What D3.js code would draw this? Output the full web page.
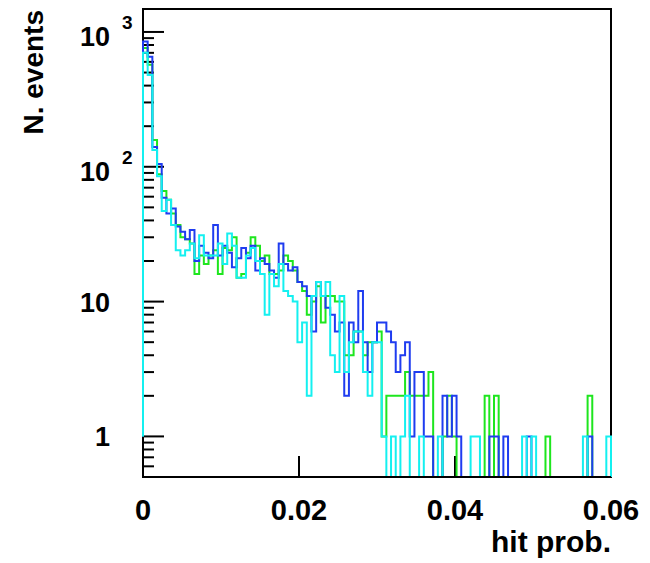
<!DOCTYPE html>
<html>
<head>
<meta charset="utf-8">
<script src="https://cdn.jsdelivr.net/npm/d3@7"></script>
<style>
    body { margin: 0; background: #fff; }
    text { font-family: "Liberation Sans", Arial, Helvetica, sans-serif; font-weight: bold; fill: #000; }
</style>
</head>
<body>
<div id="chart"></div>
<script>
// Histogram range: 100 bins between 0 and 0.06
const xRange = [0, 0.06];
const binCount = 100;

// Counts per bin
const greenCounts = [
    760, 570, 158, 88, 66, 57, 45, 37, 30, 29,
    27, 16, 22, 19, 22, 24, 16, 25, 24, 30,
    15, 16, 23, 30, 26, 20, 22, 16, 16, 17,
    22, 20, 17, 14, 12, 8, 10, 13, 7, 11,
    11, 10, 10, 4, 4, 6, 6, 4, 5, 5,
    6, 1, 2, 2, 2, 2, 3, 2, 2, 2,
    2, 3, 0, 0, 1, 2, 1, 0, 0, 0,
    0, 0, 0, 2, 0, 2, 0, 0, 0, 0,
    0, 0, 0, 0, 0, 0, 1, 0, 0, 0,
    0, 0, 0, 0, 0, 2, 0, 0, 0, 0
];
const blueCounts = [
    850, 655, 140, 105, 59, 45, 49, 36, 33, 29,
    34, 20, 26, 23, 21, 37, 22, 26, 23, 18,
    21, 25, 21, 26, 17, 21, 19, 17, 15, 27,
    19, 17, 18, 14, 13, 11, 6, 14, 11, 9,
    8, 6, 7, 2, 7, 5, 12, 5, 3, 5,
    7, 7, 6, 5, 3, 4, 5, 1, 3, 3,
    1, 1, 0, 0, 2, 1, 2, 1, 0, 0,
    0, 0, 0, 0, 1, 1, 0, 1, 0, 0,
    0, 0, 1, 0, 0, 0, 0, 0, 0, 0,
    0, 0, 0, 0, 0, 1, 0, 0, 0, 0
];
const cyanCounts = [
    700, 480, 133, 85, 47, 57, 37, 24, 22, 24,
    27, 21, 31, 22, 22, 22, 27, 19, 32, 26,
    15, 15, 22, 25, 20, 16, 8, 16, 13, 19,
    12, 11, 10, 5, 7, 2, 11, 14, 11, 14,
    4, 3, 11, 3, 5, 6, 6, 3, 2, 5,
    5, 1, 0, 1, 0, 1, 2, 0, 0, 1,
    0, 0, 0, 1, 0, 0, 0, 0, 0, 0,
    1, 1, 0, 0, 0, 0, 0, 0, 0, 0,
    0, 1, 0, 1, 0, 0, 0, 0, 0, 0,
    0, 0, 0, 0, 1, 0, 0, 0, 0, 1
];

// Axis ticks
const xTicks = [0, 0.02, 0.04, 0.06];
const xTickLabels = ["0", "0.02", "0.04", "0.06"];
const yTicks = [1, 10, 100, 1000];
const yDomain = [0.5, 1480];

// Drawing order: last one ends up on top
const series = [
    { name: "green", counts: greenCounts, color: "#1ee61e" },
    { name: "blue", counts: blueCounts, color: "#1f3cf0" },
    { name: "cyan", counts: cyanCounts, color: "#14f0f0" }
];

const margin = { top: 9, right: 39, bottom: 86, left: 143 };
const width = 650 - margin.left - margin.right;
const height = 563 - margin.top - margin.bottom;

const svg = d3.select("#chart").append("svg")
    .attr("width", 650)
    .attr("height", 563)
    .append("g")
    .attr("transform", `translate(${margin.left},${margin.top})`);

const x = d3.scaleLinear().domain(xRange).range([0, width]);
const y = d3.scaleLog().domain(yDomain).range([height, 0]);

const binWidth = (xRange[1] - xRange[0]) / binCount;
const edges = d3.range(binCount + 1).map(i => xRange[0] + i * binWidth);

// Frame
svg.append("rect")
    .attr("width", width)
    .attr("height", height)
    .attr("fill", "none")
    .attr("stroke", "#000")
    .attr("stroke-width", 2);

// Y ticks (log): majors at decades, minors at 2..9
const minorTicks = [];
for (let p = -1; p <= 3; p++) {
    for (let m = 2; m <= 9; m++) {
        const v = m * Math.pow(10, p);
        if (v > yDomain[0] && v < yDomain[1]) minorTicks.push(v);
    }
}

svg.selectAll(".y-minor")
    .data(minorTicks)
    .join("line")
    .attr("class", "y-minor")
    .attr("x1", 0)
    .attr("x2", 11)
    .attr("y1", d => y(d))
    .attr("y2", d => y(d))
    .attr("stroke", "#000")
    .attr("stroke-width", 2);

svg.selectAll(".y-major")
    .data(yTicks)
    .join("line")
    .attr("class", "y-major")
    .attr("x1", 0)
    .attr("x2", 21)
    .attr("y1", d => y(d))
    .attr("y2", d => y(d))
    .attr("stroke", "#000")
    .attr("stroke-width", 2);

// X ticks
svg.selectAll(".x-major")
    .data(xTicks)
    .join("line")
    .attr("class", "x-major")
    .attr("x1", d => x(d))
    .attr("x2", d => x(d))
    .attr("y1", height)
    .attr("y2", height - 21)
    .attr("stroke", "#000")
    .attr("stroke-width", 2);

// Histograms as step outlines
series.forEach(s => {
    const pts = [[x(edges[0]), y(1)]];
    s.counts.forEach((c, i) => {
        const yy = c > 0 ? y(c) : height;
        pts.push([x(edges[i]), yy]);
        pts.push([x(edges[i + 1]), yy]);
    });
    pts.push([x(edges[binCount]), height]);

    svg.append("path")
        .datum(pts)
        .attr("class", `hist ${s.name}`)
        .attr("fill", "none")
        .attr("stroke", s.color)
        .attr("stroke-width", 2)
        .attr("stroke-linejoin", "miter")
        .attr("d", d3.line());
});

// Bottom axis line redrawn on top
svg.append("line")
    .attr("x1", 0)
    .attr("x2", width)
    .attr("y1", height)
    .attr("y2", height)
    .attr("stroke", "#000")
    .attr("stroke-width", 2);

// X tick labels
svg.selectAll(".x-label")
    .data(xTicks)
    .join("text")
    .attr("class", "x-label")
    .attr("x", d => x(d))
    .attr("y", height + 43)
    .attr("text-anchor", "middle")
    .style("font-size", "29px")
    .text((d, i) => xTickLabels[i]);

// Y tick labels, powers above 10 get a superscript
yTicks.forEach(t => {
    const exp = Math.round(Math.log10(t));
    if (exp >= 2) {
        svg.append("text")
            .attr("x", -33)
            .attr("y", y(t) + 14)
            .attr("text-anchor", "end")
            .style("font-size", "27px")
            .text("10");
        svg.append("text")
            .attr("x", -21)
            .attr("y", y(t) - 3)
            .attr("text-anchor", "start")
            .style("font-size", "19px")
            .text(exp);
    } else {
        svg.append("text")
            .attr("x", -33)
            .attr("y", y(t) + 10)
            .attr("text-anchor", "end")
            .style("font-size", "27px")
            .text(t);
    }
});

// Axis titles
svg.append("text")
    .attr("x", width)
    .attr("y", height + 75)
    .attr("text-anchor", "end")
    .style("font-size", "30px")
    .text("hit prob.");

svg.append("text")
    .attr("transform", `translate(${-100},${1}) rotate(-90)`)
    .attr("text-anchor", "end")
    .style("font-size", "28px")
    .text("N. events");
</script>
</body>
</html>
